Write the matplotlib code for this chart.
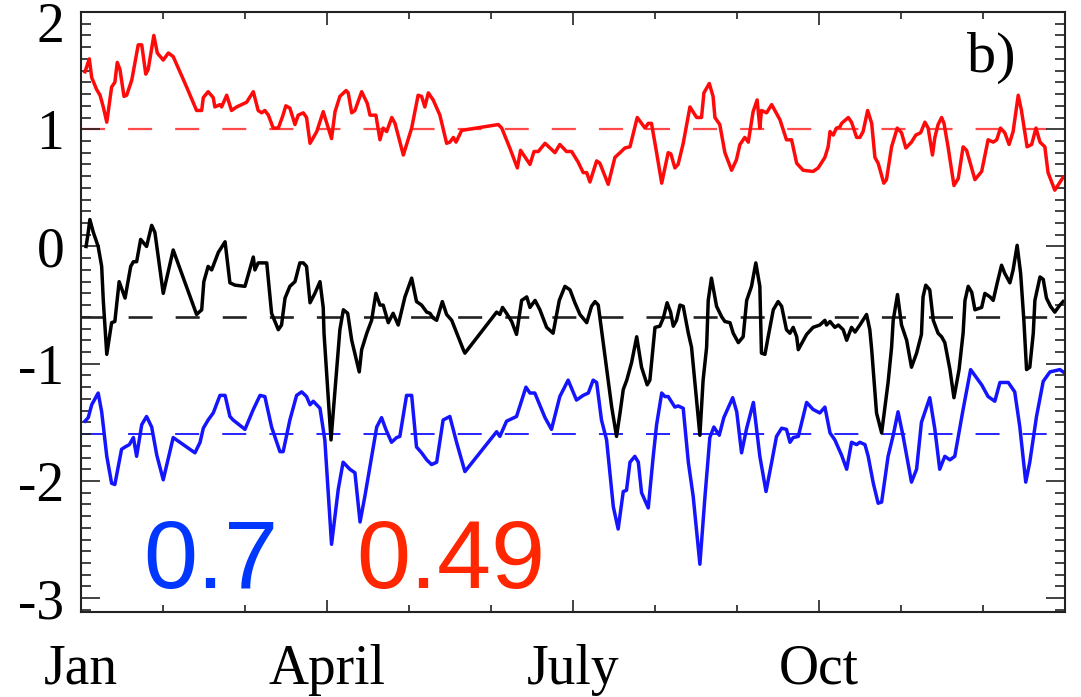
import matplotlib
matplotlib.use("Agg")
import matplotlib.pyplot as plt
import matplotlib.transforms as mtransforms

plt.rcParams['font.family'] = ['Liberation Serif', 'DejaVu Serif']
plt.rcParams['axes.unicode_minus'] = False
plt.rcParams['lines.scale_dashes'] = False

# ---- series: (day of year, value) ----
red_pts = [(1.5,1.49),(3.1,1.60),(4.0,1.44),(5.8,1.34),(7.1,1.29),(8.3,1.19),(9.6,1.06),(11.4,1.36),(12.6,1.40),(13.5,1.57),(14.5,1.51),(16.0,1.28),(17.0,1.29),(18.9,1.42),(21.3,1.72),(22.6,1.72),(24.1,1.47),(25.0,1.51),(27.1,1.80),(28.4,1.65),(30.6,1.59),(32.5,1.65),(34.3,1.62),(39.3,1.36),(43.0,1.16),(44.9,1.16),(45.5,1.27),(47.3,1.32),(49.2,1.27),(49.8,1.19),(51.7,1.21),(52.3,1.19),(54.2,1.29),(56.0,1.16),(57.9,1.19),(61.6,1.23),(64.1,1.32),(65.9,1.16),(67.2,1.14),(68.4,1.16),(69.7,1.12),(71.5,1.01),(73.4,1.01),(75.0,1.11),(76.2,1.20),(77.7,1.18),(79.6,1.04),(80.8,1.12),(82.7,1.14),(83.9,1.10),(85.2,0.88),(87.7,0.98),(90.1,1.15),(92.0,1.01),(93.2,0.92),(94.5,1.15),(96.3,1.28),(98.6,1.33),(99.4,1.31),(100.7,1.14),(101.9,1.16),(104.4,1.32),(106.5,1.22),(107.5,1.12),(109.7,1.12),(111.2,0.91),(112.4,1.01),(113.7,0.98),(115.6,1.10),(116.8,1.05),(119.9,0.78),(123.0,1.01),(125.4,1.29),(126.7,1.28),(127.9,1.19),(129.2,1.31),(131.0,1.25),(133.5,1.12),(136.0,0.88),(137.2,0.89),(138.5,0.93),(139.5,0.89),(141.6,0.99),(155.2,1.04),(156.5,1.01),(159.5,0.84),(162.3,0.67),(163.5,0.82),(167.0,0.70),(168.5,0.81),(170.1,0.81),(172.6,0.88),(176.3,0.80),(178.1,0.87),(180.6,0.81),(182.5,0.81),(184.9,0.72),(186.8,0.63),(188.1,0.63),(189.3,0.55),(191.8,0.73),(193.0,0.71),(196.1,0.53),(198.6,0.76),(200.5,0.80),(202.3,0.84),(204.2,0.85),(206.9,1.10),(209.8,1.01),(211.0,1.05),(212.2,1.05),(214.1,0.80),(216.0,0.54),(218.4,0.80),(219.4,0.79),(220.9,0.67),(222.1,0.70),(224.0,0.88),(226.5,1.19),(229.0,1.10),(230.8,1.10),(231.7,1.31),(233.7,1.39),(235.1,1.28),(235.8,1.10),(237.6,1.04),(239.5,0.80),(242.0,0.65),(243.8,0.74),(245.1,0.87),(246.9,0.93),(248.2,0.89),(250.0,1.15),(251.5,1.25),(252.5,1.01),(253.1,1.16),(255.0,1.14),(256.9,1.21),(260.0,1.08),(262.4,0.91),(264.3,0.91),(266.2,0.71),(268.6,0.65),(272.3,0.64),(274.2,0.67),(276.7,0.76),(277.9,0.85),(278.6,0.98),(279.8,0.95),(281.0,1.01),(282.3,1.02),(282.9,1.05),(285.4,1.10),(286.6,1.06),(288.5,0.93),(289.7,0.93),(290.9,0.98),(292.6,1.16),(294.1,1.05),(295.3,0.76),(296.5,0.71),(298.6,0.54),(299.6,0.57),(301.5,0.85),(303.6,1.01),(305.2,0.97),(306.8,0.84),(308.9,0.89),(310.5,0.95),(312.3,0.97),(313.9,1.06),(315.1,1.01),(316.7,0.78),(317.6,0.93),(318.8,1.04),(320.1,1.10),(321.0,1.05),(322.5,0.85),(324.7,0.52),(326.3,0.58),(328.1,0.85),(329.4,0.82),(332.5,0.57),(335.0,0.64),(337.4,0.91),(339.3,0.89),(340.6,0.91),(342.0,1.01),(343.6,0.97),(345.2,0.87),(346.7,0.98),(348.6,1.29),(349.8,1.16),(351.9,0.85),(353.6,0.87),(355.2,1.01),(356.7,0.89),(358.5,0.85),(359.7,0.63),(362.2,0.48),(365.3,0.59)]

black_pts = [(1.9,0.00),(2.7,0.12),(3.3,0.23),(4.6,0.12),(6.4,0.00),(7.7,-0.17),(8.3,-0.46),(9.6,-0.92),(11.4,-0.65),(12.6,-0.64),(14.2,-0.30),(16.4,-0.44),(18.5,-0.17),(19.5,-0.13),(20.7,-0.13),(22.2,0.06),(24.4,0.00),(26.3,0.18),(27.5,0.12),(30.6,-0.40),(34.3,-0.03),(43.0,-0.58),(44.9,-0.54),(45.7,-0.30),(47.3,-0.17),(48.6,-0.20),(51.1,-0.05),(53.6,0.04),(55.4,-0.31),(57.3,-0.33),(61.0,-0.34),(64.1,-0.09),(64.7,-0.20),(65.9,-0.14),(69.1,-0.14),(70.9,-0.57),(73.4,-0.71),(74.6,-0.67),(75.9,-0.44),(77.7,-0.34),(79.6,-0.30),(81.4,-0.14),(82.7,-0.14),(83.9,-0.17),(85.2,-0.48),(87.0,-0.40),(88.9,-0.30),(90.1,-0.52),(90.4,-0.74),(93.0,-1.65),(96.3,-0.71),(97.6,-0.54),(99.2,-0.57),(100.7,-0.80),(103.5,-1.07),(104.4,-0.88),(106.3,-0.74),(108.1,-0.63),(109.7,-0.40),(111.2,-0.50),(112.4,-0.50),(114.3,-0.65),(116.1,-0.57),(118.0,-0.67),(120.5,-0.43),(123.0,-0.27),(124.8,-0.47),(126.7,-0.50),(128.6,-0.56),(129.8,-0.57),(131.0,-0.61),(132.3,-0.63),(134.4,-0.47),(136.0,-0.58),(137.9,-0.63),(142.2,-0.88),(142.8,-0.91),(154.6,-0.56),(155.8,-0.58),(156.8,-0.52),(158.3,-0.57),(160.2,-0.64),(162.0,-0.75),(163.9,-0.46),(165.8,-0.43),(167.0,-0.52),(168.9,-0.46),(170.7,-0.54),(173.2,-0.69),(175.6,-0.74),(177.9,-0.46),(180.0,-0.34),(181.9,-0.37),(183.7,-0.48),(185.6,-0.58),(188.1,-0.65),(189.9,-0.51),(191.2,-0.47),(192.4,-0.50),(193.6,-0.71),(194.9,-0.94),(197.4,-1.37),(199.2,-1.62),(200.5,-1.42),(201.7,-1.22),(203.0,-1.14),(204.8,-0.99),(206.7,-0.77),(208.5,-1.03),(210.6,-1.18),(211.6,-1.14),(212.8,-0.86),(213.5,-0.69),(215.3,-0.68),(216.6,-0.61),(218.0,-0.48),(219.3,-0.56),(220.3,-0.68),(221.5,-0.63),(222.8,-0.50),(224.0,-0.51),(225.9,-0.74),(227.1,-0.86),(230.2,-1.61),(231.4,-1.14),(232.7,-0.86),(233.3,-0.46),(234.5,-0.27),(236.4,-0.51),(238.3,-0.60),(239.5,-0.64),(241.4,-0.65),(242.6,-0.74),(244.5,-0.82),(246.3,-0.77),(247.6,-0.46),(249.4,-0.34),(251.0,-0.14),(252.5,-0.34),(253.1,-0.91),(254.4,-0.92),(255.6,-0.77),(257.5,-0.54),(259.3,-0.47),(260.6,-0.51),(262.4,-0.71),(263.7,-0.74),(264.9,-0.69),(266.2,-0.77),(266.8,-0.88),(269.9,-0.75),(272.3,-0.69),(274.8,-0.67),(276.7,-0.63),(277.3,-0.67),(278.6,-0.64),(280.4,-0.69),(281.7,-0.67),(283.5,-0.71),(284.8,-0.80),(286.6,-0.69),(287.9,-0.73),(289.7,-0.67),(292.2,-0.58),(293.4,-0.71),(294.1,-0.88),(295.9,-1.42),(297.8,-1.59),(300.2,-1.16),(301.5,-0.86),(302.1,-0.63),(303.7,-0.41),(305.2,-0.67),(307.1,-0.80),(308.9,-1.03),(310.8,-0.91),(312.6,-0.75),(313.2,-0.43),(314.2,-0.33),(315.7,-0.37),(317.0,-0.63),(318.8,-0.74),(320.1,-0.77),(321.3,-0.82),(323.2,-1.05),(324.7,-1.29),(326.6,-1.05),(328.1,-0.74),(328.8,-0.46),(330.0,-0.34),(331.3,-0.39),(332.5,-0.54),(335.0,-0.52),(336.2,-0.40),(338.1,-0.43),(339.3,-0.46),(340.8,-0.31),(342.4,-0.16),(343.6,-0.23),(345.5,-0.31),(346.7,-0.20),(348.2,0.01),(349.5,-0.23),(350.7,-0.63),(351.7,-1.05),(352.9,-1.03),(354.2,-0.74),(354.8,-0.46),(356.7,-0.26),(357.9,-0.28),(359.1,-0.44),(360.6,-0.51),(362.2,-0.56),(364.1,-0.50),(365.3,-0.47)]

blue_pts = [(1.5,-1.49),(2.7,-1.46),(4.0,-1.35),(6.4,-1.25),(7.7,-1.41),(9.6,-1.79),(11.4,-2.02),(12.6,-2.03),(15.1,-1.73),(16.4,-1.71),(18.0,-1.69),(19.5,-1.63),(20.7,-1.79),(22.6,-1.52),(24.4,-1.45),(26.3,-1.54),(28.2,-1.78),(30.6,-1.99),(34.3,-1.63),(42.4,-1.76),(44.3,-1.67),(45.5,-1.55),(47.3,-1.48),(49.2,-1.42),(51.7,-1.27),(53.6,-1.27),(55.4,-1.45),(56.6,-1.48),(61.0,-1.56),(64.1,-1.39),(66.6,-1.27),(68.4,-1.28),(70.9,-1.54),(74.0,-1.75),(75.2,-1.75),(77.7,-1.48),(80.2,-1.27),(82.1,-1.24),(83.9,-1.28),(85.2,-1.35),(86.4,-1.32),(88.9,-1.38),(90.7,-1.65),(93.2,-2.54),(95.7,-2.07),(97.5,-1.84),(100.0,-1.90),(101.9,-1.93),(103.8,-2.35),(105.6,-2.13),(110.0,-1.54),(111.8,-1.46),(113.4,-1.56),(115.5,-1.67),(117.4,-1.63),(118.6,-1.62),(121.1,-1.27),(123.0,-1.27),(124.8,-1.71),(126.7,-1.76),(128.6,-1.82),(130.4,-1.86),(132.3,-1.84),(134.7,-1.48),(137.2,-1.45),(139.7,-1.67),(142.8,-1.92),(154.6,-1.58),(155.8,-1.62),(158.3,-1.49),(162.0,-1.45),(165.5,-1.20),(167.0,-1.25),(168.8,-1.25),(172.6,-1.46),(175.0,-1.56),(178.1,-1.28),(181.2,-1.14),(184.3,-1.31),(186.8,-1.27),(188.7,-1.25),(190.5,-1.14),(191.8,-1.16),(193.6,-1.48),(195.5,-1.65),(198.0,-2.22),(199.8,-2.41),(201.7,-2.09),(202.9,-2.08),(204.2,-1.84),(206.0,-1.79),(207.3,-1.84),(208.5,-2.10),(211.0,-2.23),(212.8,-1.80),(214.1,-1.52),(216.0,-1.25),(217.2,-1.28),(218.4,-1.28),(220.9,-1.37),(222.1,-1.36),(224.0,-1.38),(225.9,-1.84),(227.7,-2.13),(230.2,-2.71),(232.1,-2.13),(233.9,-1.63),(235.4,-1.54),(237.4,-1.61),(239.1,-1.46),(242.4,-1.29),(243.9,-1.41),(245.7,-1.76),(247.6,-1.55),(250.1,-1.33),(252.5,-1.79),(254.8,-2.09),(256.9,-1.84),(258.7,-1.62),(260.6,-1.55),(262.4,-1.56),(263.7,-1.67),(264.9,-1.63),(266.8,-1.62),(269.9,-1.33),(272.3,-1.39),(274.8,-1.42),(276.7,-1.37),(278.6,-1.59),(280.4,-1.65),(282.9,-1.78),(284.8,-1.90),(286.6,-1.67),(288.5,-1.69),(289.7,-1.67),(291.6,-1.69),(292.8,-1.79),(294.7,-2.02),(296.5,-2.19),(297.8,-2.18),(300.2,-1.79),(302.1,-1.61),(303.9,-1.41),(305.8,-1.62),(308.9,-2.01),(310.8,-1.90),(312.6,-1.50),(315.7,-1.29),(317.6,-1.56),(319.4,-1.90),(321.3,-1.79),(323.2,-1.82),(325.0,-1.79),(328.1,-1.39),(330.9,-1.05),(333.1,-1.12),(335.0,-1.18),(337.4,-1.28),(339.9,-1.32),(341.8,-1.16),(344.9,-1.16),(347.3,-1.24),(349.2,-1.54),(351.4,-2.01),(352.9,-1.84),(355.4,-1.45),(357.9,-1.15),(360.4,-1.07),(364.1,-1.05),(365.3,-1.07)]

red_ref = 1.0
black_ref = -0.6
blue_ref = -1.6

month_labels = ["Jan", "April", "July", "Oct"]
y_ticks = [-3, -2, -1, 0, 1, 2]
corr_blue = "0.7"
corr_red = "0.49"
panel_tag = "b)"

# ================== FIGURE ==================
fig = plt.figure(figsize=(10.81, 6.97), dpi=100)
ax = fig.add_axes([0.0749, 0.1224, 0.9103, 0.8604])
ax.set_xlim(0, 366)
ax.set_ylim(-3.115, 2.0)

dash = (17.3, 16.6)
ax.axhline(red_ref, color="#ff4a4a", lw=1.6, dashes=dash, zorder=1)
ax.axhline(black_ref, color="#222222", lw=1.9, dashes=dash, zorder=1)
ax.axhline(blue_ref, color="#1414ff", lw=1.3, dashes=dash, zorder=1)

for pts, col in [(red_pts, "#ff0a0a"), (black_pts, "#000000"), (blue_pts, "#1414ff")]:
    d, v = zip(*pts)
    ax.plot(d, v, color=col, lw=2.5, zorder=2, solid_joinstyle="round")

# ticks
month_len = 366 / 12
ax.set_xticks([i * month_len for i in (0, 3, 6, 9)], labels=month_labels)
ax.set_xticks([i * month_len for i in range(12) if i % 3], minor=True)
ax.set_yticks(y_ticks, labels=[str(v) for v in y_ticks])
ax.set_yticks([k / 10 for k in range(-31, 21)], minor=True)

ax.tick_params(axis="both", which="both", direction="in", top=True, right=True,
               width=1.2, color="#222222")
ax.tick_params(axis="y", which="major", length=13.5, pad=12, labelsize=40)
ax.tick_params(axis="y", which="minor", length=7.5)
ax.tick_params(axis="x", which="major", length=9, pad=23, labelsize=40)
ax.tick_params(axis="x", which="minor", length=5)

for s in ax.spines.values():
    s.set_linewidth(1.5)
    s.set_color("#222222")

# the top label sits a bit lower than its tick in the original
top_lbl = ax.yaxis.get_major_ticks()[-1].label1
top_lbl.set_transform(top_lbl.get_transform() +
                      mtransforms.ScaledTranslation(0, -0.10, fig.dpi_scale_trans))

ax.text(0.063, 0.0395, corr_blue, transform=ax.transAxes, fontsize=70,
        color="#0037ff", family="Liberation Sans", ha="left", va="baseline")
ax.text(0.2795, 0.0395, corr_red, transform=ax.transAxes, fontsize=70,
        color="#ff2600", family="Liberation Sans", ha="left", va="baseline")
ax.text(0.900, 0.900, panel_tag, transform=ax.transAxes, fontsize=42,
        ha="left", va="baseline")

fig.savefig("out.png", dpi=100)
